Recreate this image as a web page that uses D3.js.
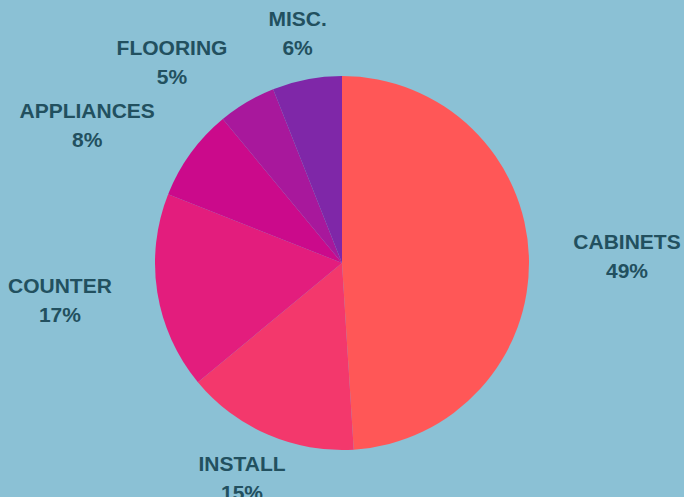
<!DOCTYPE html>
<html>
<head>
    <meta charset="utf-8">
    <title>Kitchen budget</title>
    <style>
        body { margin: 0; background: #8bc1d5; }
        svg { display: block; }
    </style>
</head>
<body>

<main></main>

<script src="https://cdn.jsdelivr.net/npm/d3@7/dist/d3.min.js"></script>
<script>

    // data
    var categories = ["CABINETS", "INSTALL", "COUNTER", "APPLIANCES", "FLOORING", "MISC."];
    var shares = [49, 15, 17, 8, 5, 6];
    var colors = ["#ff5757", "#f3386c", "#e31d7d", "#cb0a8b", "#a8189c", "#7f27a8"];

    var width = 684;
    var height = 497;
    var cx = 342, cy = 263;
    var radius = 187;

    var svg = d3.select("main")
        .append("svg")
        .attr("width", width)
        .attr("height", height);

    svg.append("rect")
        .attr("width", width)
        .attr("height", height)
        .attr("fill", "#8bc1d5");

    var pie = d3.pie().sort(null).value(function (d) { return d; });
    var arcs = pie(shares);

    var arc = d3.arc().innerRadius(0).outerRadius(radius);

    var g = svg.append("g")
        .attr("transform", "translate(" + cx + "," + cy + ")");

    g.selectAll("path")
        .data(arcs)
        .enter()
        .append("path")
        .attr("d", arc)
        .attr("fill", function (d, i) { return colors[i]; });

    // labels: two lines, pushed out along the mid angle
    var labelR = 208;
    var labels = g.selectAll("g.label")
        .data(arcs)
        .enter()
        .append("g")
        .attr("class", "label")
        .attr("font-family", "'Liberation Sans', Arial, sans-serif")
        .attr("font-weight", "bold")
        .attr("font-size", "21px")
        .attr("fill", "#22505f")
        .attr("text-anchor", "middle");

    labels.append("text")
        .attr("y", 0)
        .text(function (d, i) { return categories[i]; });
    labels.append("text")
        .attr("y", 29)
        .text(function (d) { return d.value + "%"; });

    labels.attr("transform", function (d) {
        var a = (d.startAngle + d.endAngle) / 2;
        var sx = Math.sin(a), sy = -Math.cos(a);
        var box = this.getBBox();
        var w = box.width, h = box.height;
        // side labels get a bit more room horizontally
        var extra = Math.abs(sx) > 0.45 ? (23 + 15 * Math.abs(sy)) * Math.sign(sx) : 0;
        var x = sx * labelR + sx * w / 2 + extra;
        var y = sy * labelR + sy * h / 2;
        // move group so its box centre lands on (x, y)
        var ox = x - (box.x + w / 2);
        var oy = y - (box.y + h / 2);
        return "translate(" + ox + "," + oy + ")";
    });
</script>
</body>
</html>
